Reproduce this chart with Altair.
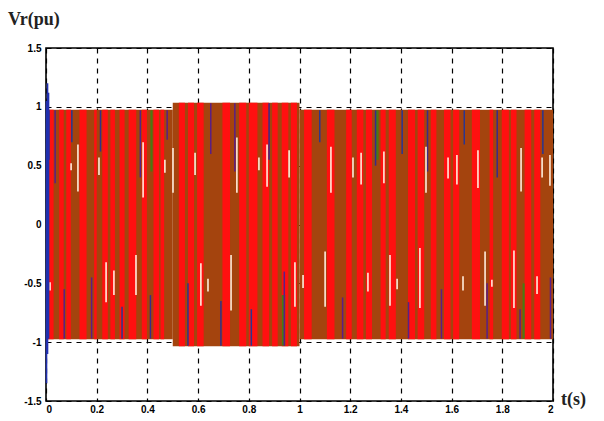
import altair as alt
import pandas as pd

# ---- data ----
# envelope of the three-phase voltage (pu)
seg_start = [0.0, 0.5, 1.0]
seg_end = [0.5, 1.0, 2.0]
seg_amp = [0.975, 1.035, 0.975]

# red (phase c) dominant stripes: start / end time (s)
red_start = [0.006, 0.052, 0.080, 0.132, 0.190, 0.222, 0.254, 0.290, 0.326, 0.378,
             0.424, 0.452, 0.524, 0.560, 0.596, 0.696, 0.762, 0.800, 0.854, 0.892,
             0.930, 0.966, 1.018, 1.108, 1.184, 1.226, 1.262, 1.320, 1.352, 1.428,
             1.466, 1.518, 1.570, 1.606, 1.680, 1.750, 1.798, 1.834, 1.888, 1.926]
red_end = [0.030, 0.070, 0.098, 0.160, 0.200, 0.244, 0.272, 0.310, 0.356, 0.398,
           0.446, 0.466, 0.548, 0.584, 0.622, 0.726, 0.790, 0.834, 0.880, 0.914,
           0.956, 0.990, 1.048, 1.138, 1.206, 1.252, 1.286, 1.340, 1.380, 1.456,
           1.492, 1.540, 1.596, 1.630, 1.712, 1.764, 1.826, 1.856, 1.914, 1.950]

# dark (phase a / b) thin streaks: time, from, to (pu)
dark_t = [0.012, 0.036, 0.072, 0.102, 0.180, 0.215, 0.300, 0.372, 0.412, 0.478,
          0.560, 0.650, 0.690, 0.745, 0.810, 0.880, 0.940, 1.080, 1.170, 1.300,
          1.405, 1.430, 1.505, 1.560, 1.650, 1.740, 1.780, 1.870, 1.960, 1.990]
dark_y1 = [0.97, 0.97, -0.97, 0.97, -0.97, 0.97, -0.97, 0.97, -0.97, 0.97,
           -1.03, 1.03, -1.03, 1.03, -1.03, 1.03, -1.03, 0.97, -0.97, 0.97,
           0.97, -0.97, 0.97, -0.97, 0.97, -0.97, 0.97, -0.97, 0.97, -0.97]
dark_y2 = [0.55, 0.35, -0.55, 0.70, -0.45, 0.62, -0.70, 0.40, -0.60, 0.72,
           -0.50, 0.60, -0.65, 0.45, -0.72, 0.55, -0.40, 0.70, -0.62, 0.50,
           0.60, -0.66, 0.45, -0.55, 0.68, -0.50, 0.40, -0.72, 0.60, -0.45]
dark_col = ["#3a2a8a", "#5a1f86", "#5a1f86", "#2a3590", "#5a1f86", "#3a2a8a", "#2a3590", "#5a1f86",
            "#3a2a8a", "#5a1f86", "#2a3590", "#5a1f86", "#3a2a8a", "#5a1f86", "#2a3590", "#3a2a8a",
            "#5a1f86", "#2a3590", "#5a1f86", "#3a2a8a", "#2a3590", "#5a1f86", "#3a2a8a", "#5a1f86",
            "#2a3590", "#5a1f86", "#3a2a8a", "#5a1f86", "#2a3590", "#5a1f86"]

# green streaks (phase b): time start, end, from, to
green_start = [0.412, 0.930, 1.300, 1.880]
green_end = [0.420, 0.944, 1.312, 1.888]
green_y1 = [0.97, -1.03, 0.97, -0.97]
green_y2 = [0.45, -0.60, 0.55, -0.50]

# pale sample lines: time, from, to (pu)
white_t = [0.016, 0.099, 0.126, 0.209, 0.237, 0.268, 0.355, 0.383, 0.469, 0.501,
           0.588, 0.611, 0.639, 0.730, 0.753, 0.840, 0.872, 0.959, 0.982, 1.014,
           1.101, 1.124, 1.211, 1.243, 1.270, 1.333, 1.357, 1.385, 1.475, 1.499,
           1.586, 1.621, 1.645, 1.704, 1.732, 1.759, 1.846, 1.874, 1.937, 1.957, 1.988]
white_y1 = [-0.49, 0.52, 0.68, 0.57, -0.32, -0.39, -0.26, 0.70, 0.55, 0.65,
            0.61, -0.33, -0.46, -0.26, 0.74, 0.57, 0.68, 0.63, -0.32, -0.43,
            -0.23, 0.66, 0.57, 0.61, -0.41, 0.62, -0.26, -0.46, -0.20, 0.66,
            0.57, 0.59, -0.44, 0.63, -0.23, -0.47, -0.22, 0.65, -0.44, 0.57, 0.59]
white_y2 = [-0.56, 0.46, 0.28, 0.42, -0.66, -0.60, -0.60, 0.23, 0.44, 0.27,
            0.42, -0.69, -0.57, -0.73, 0.27, 0.46, 0.32, 0.40, -0.70, -0.54,
            -0.70, 0.27, 0.40, 0.34, -0.57, 0.35, -0.69, -0.55, -0.71, 0.27,
            0.39, 0.34, -0.56, 0.31, -0.69, -0.53, -0.71, 0.28, -0.59, 0.40, 0.33]

# start-up transient (blue phase)
spike_t = [0.002, 0.006, 0.010]
spike_lo = [-1.35, -1.10, -0.97]
spike_hi = [1.05, 1.20, 1.12]

x_ticks = [0, 0.2, 0.4, 0.6, 0.8, 1, 1.2, 1.4, 1.6, 1.8, 2]
y_ticks = [-1.5, -1, -0.5, 0, 0.5, 1, 1.5]

BROWN = "#a4440e"
RED = "#ff1010"


def amp_at(t):
    for s, e, a in zip(seg_start, seg_end, seg_amp):
        if s <= t < e:
            return a
    return seg_amp[-1]


env = pd.DataFrame({"t0": seg_start, "t1": seg_end,
                    "lo": [-a for a in seg_amp], "hi": seg_amp})
red_amp = [amp_at((s + e) / 2) for s, e in zip(red_start, red_end)]
red = pd.DataFrame({"t0": red_start, "t1": red_end,
                    "lo": [-a for a in red_amp], "hi": red_amp})
dark = pd.DataFrame({"t": dark_t, "y1": dark_y1, "y2": dark_y2, "c": dark_col})
green = pd.DataFrame({"t0": green_start, "t1": green_end, "y1": green_y1, "y2": green_y2})
white = pd.DataFrame({"t": white_t, "y1": white_y1, "y2": white_y2})
spike = pd.DataFrame({"t": spike_t, "lo": spike_lo, "hi": spike_hi})

xs = alt.Scale(domain=[0, 2], nice=False, zero=False)
ys = alt.Scale(domain=[-1.5, 1.5], nice=False, zero=False)

x_axis = alt.Axis(values=x_ticks, labelExpr="'' + datum.value", title=None,
                  grid=True, gridDash=[5, 5], gridColor="black", gridOpacity=1,
                  gridWidth=1.2, ticks=False, domain=False, labelPadding=3)
y_axis = alt.Axis(values=y_ticks, labelExpr="'' + datum.value", title=None,
                  grid=True, gridDash=[5, 5], gridColor="black", gridOpacity=1,
                  gridWidth=1.2, ticks=False, domain=False, labelPadding=5)

base_env = alt.Chart(env).mark_rect(color=BROWN).encode(
    x=alt.X("t0:Q", scale=xs, axis=x_axis), x2="t1:Q",
    y=alt.Y("lo:Q", scale=ys, axis=y_axis), y2="hi:Q")

red_layer = alt.Chart(red).mark_rect(color=RED).encode(
    x=alt.X("t0:Q", scale=xs), x2="t1:Q",
    y=alt.Y("lo:Q", scale=ys), y2="hi:Q")

green_layer = alt.Chart(green).mark_rect(color="#4a7a12").encode(
    x=alt.X("t0:Q", scale=xs), x2="t1:Q",
    y=alt.Y("y1:Q", scale=ys), y2="y2:Q")

dark_layer = alt.Chart(dark).mark_rule(strokeWidth=1.5).encode(
    x=alt.X("t:Q", scale=xs), y=alt.Y("y1:Q", scale=ys), y2="y2:Q",
    color=alt.Color("c:N", scale=None))

white_layer = alt.Chart(white).mark_rule(color="#ffeedd", strokeWidth=1.6).encode(
    x=alt.X("t:Q", scale=xs), y=alt.Y("y1:Q", scale=ys), y2="y2:Q")

spike_layer = alt.Chart(spike).mark_rule(color="#2030b0", strokeWidth=1.6).encode(
    x=alt.X("t:Q", scale=xs), y=alt.Y("lo:Q", scale=ys), y2="hi:Q")

ylab = alt.Chart(pd.DataFrame({"s": ["Vr(pu)"]})).mark_text(
    align="left", baseline="middle", font="Liberation Serif", fontWeight="bold",
    fontSize=18, color="#222222").encode(
    text="s:N", x=alt.value(-38), y=alt.value(-28))

xlab = alt.Chart(pd.DataFrame({"s": ["t(s)"]})).mark_text(
    align="left", baseline="middle", font="Liberation Serif", fontWeight="bold",
    fontSize=18, color="#222222").encode(
    text="s:N", x=alt.value(515), y=alt.value(352))

chart = alt.layer(base_env, red_layer, green_layer, dark_layer, white_layer,
                  spike_layer, ylab, xlab).properties(
    width=507, height=353,
    autosize=alt.AutoSizeParams(type="none"),
    padding={"left": 46, "top": 48, "right": 51, "bottom": 20},
    background="white",
).configure_view(stroke="black", strokeWidth=1.6).configure_axis(
    labelFont="Liberation Sans", labelFontWeight="bold", labelFontSize=10,
    labelColor="black")

chart.save("out.html", embed_options={"renderer": "svg", "actions": False})
